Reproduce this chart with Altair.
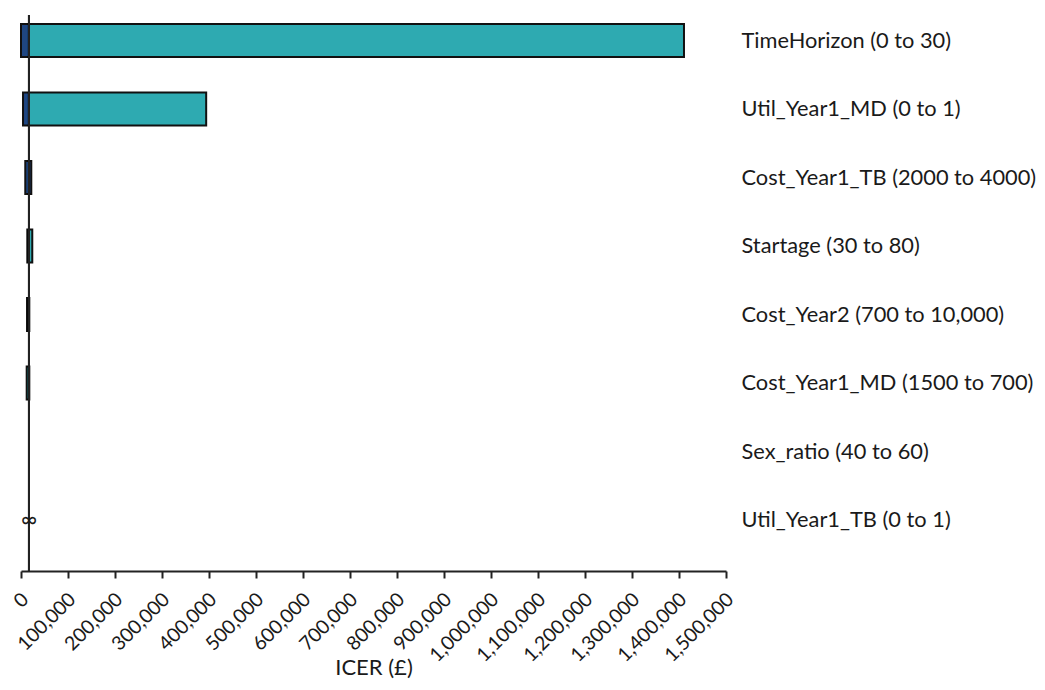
import altair as alt
import pandas as pd

# Parameters (top to bottom)
params = [
    "TimeHorizon (0 to 30)",
    "Util_Year1_MD (0 to 1)",
    "Cost_Year1_TB (2000 to 4000)",
    "Startage (30 to 80)",
    "Cost_Year2 (700 to 10,000)",
    "Cost_Year1_MD (1500 to 700)",
    "Sex_ratio (40 to 60)",
    "Util_Year1_TB (0 to 1)",
]
base_icer = 17000

# Navy segments (ICER at lower parameter value)
low_param = ["TimeHorizon (0 to 30)", "Util_Year1_MD (0 to 1)",
             "Cost_Year1_TB (2000 to 4000)", "Cost_Year2 (700 to 10,000)"]
low_start = [0, 4300, 9100, 12800]
low_end = [17000, 17000, 21900, 17700]

# Teal segments (ICER at upper parameter value)
high_param = ["TimeHorizon (0 to 30)", "Util_Year1_MD (0 to 1)",
              "Startage (30 to 80)", "Cost_Year1_MD (1500 to 700)"]
high_start = [17000, 17000, 13400, 12100]
high_end = [1410600, 394000, 24000, 17700]

inf_param = ["Util_Year1_TB (0 to 1)"]

tick_values = [0, 100000, 200000, 300000, 400000, 500000, 600000, 700000,
               800000, 900000, 1000000, 1100000, 1200000, 1300000, 1400000, 1500000]

NAVY = "#1f4682"
TEAL = "#2eaab1"
FONT = "Lato"

seg = pd.concat([
    pd.DataFrame({"param": low_param, "start": low_start, "end": low_end, "series": "low"}),
    pd.DataFrame({"param": high_param, "start": high_start, "end": high_end, "series": "high"}),
], ignore_index=True)
inf_df = pd.DataFrame({"param": inf_param, "icer": [base_icer] * len(inf_param), "t": ["∞"] * len(inf_param)})

y_enc = alt.Y("param:N", sort=params,
              scale=alt.Scale(domain=params, paddingInner=0.518, paddingOuter=0.3175, align=0.207),
              axis=alt.Axis(orient="right", domain=False, ticks=False, labelPadding=15,
                            labelFontSize=21.8, labelFont=FONT, labelColor="#1a1a1a",
                            labelAlign="left", labelLimit=400, title=None, grid=False))

x_scale = alt.Scale(domain=[0, 1500000], nice=False, zero=False)

bars = alt.Chart(seg).mark_bar(stroke="#111111", strokeWidth=2, opacity=1).encode(
    y=y_enc,
    x=alt.X("start:Q", scale=x_scale,
            axis=alt.Axis(values=tick_values, format=",.0f", title="ICER (£)",
                          labelAngle=315, labelAlign="right", labelBaseline="middle",
                          labelPadding=18, labelOffset=4, labelFontSize=19.5, labelFont=FONT,
                          labelColor="#1a1a1a",
                          titleFontSize=22, titleFont=FONT, titleFontWeight="normal",
                          titleColor="#1a1a1a", titleY=103, titleBaseline="alphabetic",
                          domainColor="#222222", domainWidth=2, tickColor="#222222",
                          tickWidth=2, tickSize=7, grid=False, labelOverlap=False)),
    x2="end:Q",
    color=alt.Color("series:N", scale=alt.Scale(domain=["low", "high"], range=[NAVY, TEAL]), legend=None),
)

rule = alt.Chart(seg).mark_rule(color="#222222", strokeWidth=2).encode(
    x=alt.X(datum=base_icer, scale=x_scale)
)

inf_text = alt.Chart(inf_df).mark_text(fontSize=22, font=FONT, color="#1a1a1a", align="center", baseline="middle").encode(
    y=alt.Y("param:N", sort=params),
    x=alt.X("icer:Q", scale=x_scale),
    text="t:N",
)

chart = alt.layer(bars, rule, inf_text).properties(
    width=705, height=556,
    autosize=alt.AutoSizeParams(type="none"),
    padding={"left": 13, "top": 7, "right": 311, "bottom": 109},
).configure_view(stroke=None)

chart.save("out.html", embed_options={"renderer": "svg", "actions": False})
